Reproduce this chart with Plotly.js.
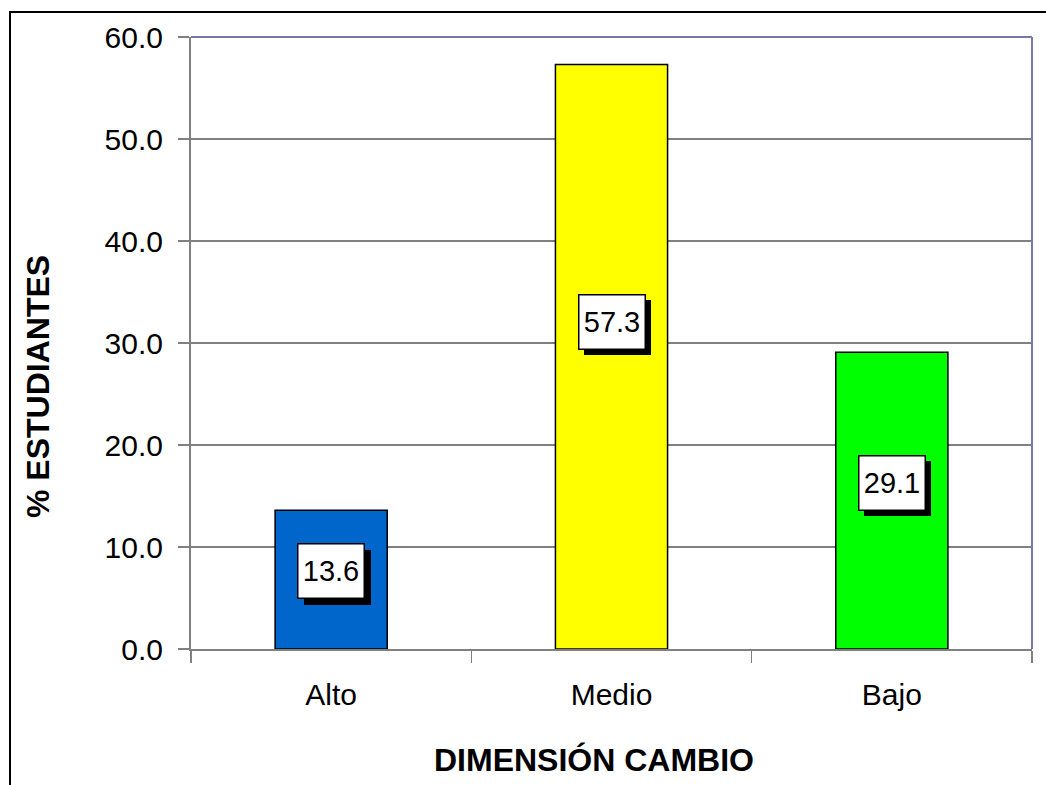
<!DOCTYPE html>
<html>
<head>
<meta charset="utf-8">
<script src="https://cdn.plot.ly/plotly-3.0.1.min.js"></script>
<style>
  html, body { margin: 0; padding: 0; background: #fff; }
  #frame { position: absolute; left: 9px; top: 11px; width: 1100px; height: 900px;
           border-left: 2px solid #000; border-top: 2px solid #000; }
  #chart { position: absolute; left: 0; top: 0; width: 1046px; height: 785px; }
</style>
</head>
<body>
<div id="frame"></div>
<div id="chart"></div>
<script>
const categories = ["Alto", "Medio", "Bajo"];
const values = [13.6, 57.3, 29.1];
const barColors = ["#0066CC", "#FFFF00", "#00FF00"];
const yTickVals = [0, 10, 20, 30, 40, 50, 60];
const yTickText = ["0.0", "10.0", "20.0", "30.0", "40.0", "50.0", "60.0"];
const xTitle = "DIMENSIÓN CAMBIO";
const yTitle = "% ESTUDIANTES";

const font = "Liberation Sans, Arial, sans-serif";
const labelPos = 0.56;

const trace = {
  type: "bar",
  x: categories,
  y: values,
  width: 0.4,
  marker: { color: barColors, line: { color: "#000", width: 1.5 } },
  hoverinfo: "skip"
};

const annotations = [];
categories.forEach((c, i) => {
  const txt = values[i].toFixed(1);
  annotations.push({
    x: c, y: values[i] * labelPos, xref: "x", yref: "y",
    text: " ", showarrow: false, xshift: 6, yshift: -6,
    bgcolor: "#000", bordercolor: "#000", borderwidth: 1, borderpad: 0,
    width: 65, height: 53,
    font: { family: font, size: 29, color: "#000" }
  });
  annotations.push({
    x: c, y: values[i] * labelPos, xref: "x", yref: "y",
    text: txt, showarrow: false,
    bgcolor: "#fff", bordercolor: "#000", borderwidth: 1.5, borderpad: 0,
    width: 65, height: 53,
    font: { family: font, size: 29, color: "#000" }
  });
});

annotations.push({
  xref: "paper", yref: "paper", x: (594 - 191) / 841, y: (649 - 760) / 612,
  xanchor: "center", yanchor: "middle", showarrow: false,
  text: xTitle, font: { family: font, size: 32, color: "#000", weight: "bold" }
});
annotations.push({
  xref: "paper", yref: "paper", x: (38 - 191) / 841, y: (649 - 387) / 612,
  xanchor: "center", yanchor: "middle", showarrow: false, textangle: -90,
  text: yTitle, font: { family: font, size: 32, color: "#000", weight: "bold" }
});

const layout = {
  width: 1046, height: 785,
  margin: { l: 191, r: 14, t: 37, b: 136 },
  paper_bgcolor: "rgba(0,0,0,0)",
  plot_bgcolor: "#fff",
  showlegend: false,
  font: { family: font, color: "#000" },
  xaxis: {
    type: "category",
    tickson: "boundaries",
    ticks: "outside", ticklen: 12, tickcolor: "#808080", tickwidth: 1.5,
    showline: true, linecolor: "#808080", linewidth: 2,
    showgrid: false, zeroline: false,
    tickfont: { family: font, size: 30, color: "#000" },
    ticklabelstandoff: 18
  },
  yaxis: {
    range: [0, 60],
    tickvals: yTickVals, ticktext: yTickText,
    ticks: "outside", ticklen: 11, tickcolor: "#808080", tickwidth: 1.5,
    showline: true, linecolor: "#808080", linewidth: 2,
    showgrid: true, gridcolor: "#808080", gridwidth: 1.5,
    zeroline: false,
    tickfont: { family: font, size: 30, color: "#000" },
    ticklabelstandoff: 9
  },
  shapes: [
    { type: "line", xref: "paper", yref: "paper", x0: 0, x1: 1, y0: 1, y1: 1, line: { color: "#7878A8", width: 2 } },
    { type: "line", xref: "paper", yref: "paper", x0: 1, x1: 1, y0: 0, y1: 1, line: { color: "#7878A8", width: 2 } }
  ],
  annotations: annotations
};

Plotly.newPlot("chart", [trace], layout, { displayModeBar: false, staticPlot: true });
</script>
</body>
</html>
